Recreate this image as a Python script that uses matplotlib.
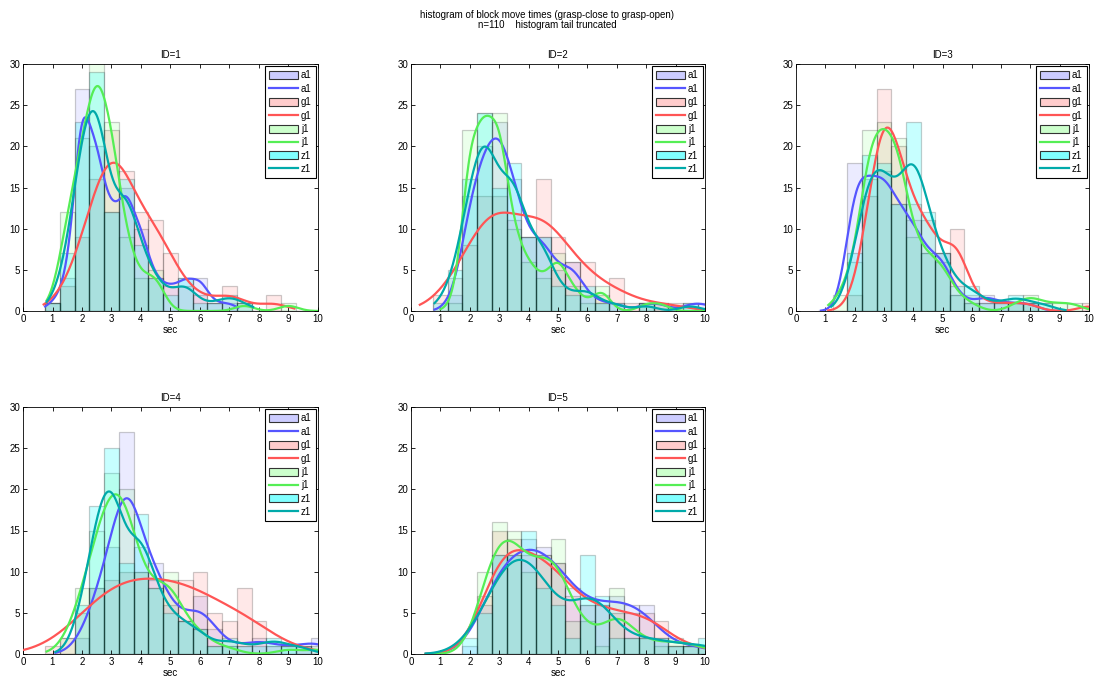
import numpy as np
import matplotlib
matplotlib.use("Agg")
import matplotlib.pyplot as plt
from matplotlib.patches import Patch
from matplotlib.lines import Line2D

plt.rcParams['font.family'] = ['Liberation Sans', 'DejaVu Sans']

# bin centres (width 0.5), tail beyond 10 truncated
centers = [1.0, 1.5, 2.0, 2.5, 3.0, 3.5, 4.0, 4.5, 5.0, 5.5,
           6.0, 6.5, 7.0, 7.5, 8.0, 8.5, 9.0, 9.5, 10.0]
series = ['a1', 'g1', 'j1', 'z1']
panel_titles = ['ID=1', 'ID=2', 'ID=3', 'ID=4', 'ID=5']

# counts, one list per series per panel
id1_a1 = [1, 4, 27, 20, 12, 15, 10, 4, 3, 4, 4, 1, 1, 0, 0, 0, 0, 0, 0]
id1_g1 = [1, 3, 9, 16, 22, 17, 12, 11, 7, 3, 2, 1, 3, 1, 0, 2, 0, 0, 0]
id1_j1 = [1, 12, 21, 31, 23, 9, 4, 5, 0, 0, 0, 0, 0, 1, 0, 0, 1, 0, 0]
id1_z1 = [1, 7, 23, 29, 12, 16, 8, 4, 2, 4, 1, 1, 2, 1, 0, 0, 0, 0, 0]

id2_a1 = [0, 2, 14, 20, 23, 16, 9, 9, 5, 6, 2, 1, 1, 0, 1, 1, 0, 1, 1]
id2_g1 = [2, 4, 8, 14, 14, 11, 9, 16, 9, 6, 6, 2, 4, 1, 1, 1, 1, 0, 0]
id2_j1 = [0, 1, 22, 24, 24, 10, 6, 4, 7, 3, 1, 3, 0, 0, 1, 1, 0, 0, 0]
id2_z1 = [1, 5, 16, 24, 15, 18, 9, 9, 3, 2, 3, 1, 1, 0, 1, 0, 0, 1, 0]

id3_a1 = [0, 0, 18, 16, 17, 13, 11, 7, 7, 2, 1, 2, 1, 1, 1, 0, 0, 0, 0]
id3_g1 = [0, 0, 2, 14, 27, 20, 13, 11, 7, 10, 2, 1, 1, 1, 1, 0, 0, 0, 1]
id3_j1 = [0, 2, 6, 22, 23, 21, 9, 7, 6, 2, 1, 0, 0, 1, 2, 1, 1, 1, 0]
id3_z1 = [0, 0, 7, 19, 18, 13, 23, 12, 7, 3, 3, 1, 1, 2, 1, 1, 0, 0, 0]

id4_a1 = [0, 0, 2, 8, 13, 27, 13, 11, 6, 4, 7, 3, 1, 1, 2, 1, 1, 1, 2]
id4_g1 = [1, 2, 5, 8, 9, 10, 10, 9, 9, 9, 10, 5, 4, 8, 4, 1, 0, 1, 0]
id4_j1 = [0, 2, 8, 15, 22, 20, 10, 8, 10, 4, 3, 1, 1, 0, 0, 0, 1, 0, 1]
id4_z1 = [0, 0, 6, 18, 25, 11, 17, 8, 5, 4, 3, 1, 2, 1, 1, 2, 1, 1, 0]

id5_a1 = [0, 0, 1, 6, 12, 12, 14, 13, 11, 8, 6, 6, 7, 6, 6, 2, 1, 1, 1]
id5_g1 = [0, 0, 0, 7, 15, 14, 12, 12, 11, 7, 6, 6, 5, 5, 5, 4, 1, 1, 1]
id5_j1 = [0, 0, 0, 10, 16, 15, 10, 12, 14, 4, 4, 1, 8, 2, 2, 1, 2, 1, 1]
id5_z1 = [0, 0, 2, 5, 12, 12, 15, 8, 6, 2, 12, 7, 2, 2, 2, 2, 1, 1, 2]

panels = [
    [id1_a1, id1_g1, id1_j1, id1_z1],
    [id2_a1, id2_g1, id2_j1, id2_z1],
    [id3_a1, id3_g1, id3_j1, id3_z1],
    [id4_a1, id4_g1, id4_j1, id4_z1],
    [id5_a1, id5_g1, id5_j1, id5_z1],
]

# kernel widths of the density curves (a1, g1, j1, z1), estimated per panel
kernel_bw = [
    [0.28, 0.50, 0.33, 0.36],
    [0.35, 0.70, 0.30, 0.37],
    [0.35, 0.38, 0.35, 0.40],
    [0.45, 1.00, 0.42, 0.40],
    [0.60, 0.65, 0.50, 0.65],
]

# data range (min, max sec) covered by each density curve
curve_lo = [
    [0.75, 0.70, 0.80, 0.80],
    [0.80, 0.30, 1.00, 0.80],
    [0.85, 1.10, 1.10, 1.20],
    [1.10, 0.00, 0.80, 1.10],
    [0.50, 0.50, 0.50, 0.50],
]
curve_hi = [
    [7.3, 9.2, 10.0, 7.8],
    [10.5, 10.5, 10.5, 10.5],
    [9.0, 10.5, 10.5, 9.2],
    [10.5, 10.5, 10.5, 10.5],
    [10.5, 10.5, 10.5, 10.5],
]

bar_faces = [(0, 0, 1, 0.08), (1, 0, 0, 0.09), (0, 1, 0, 0.08), (0, 1, 1, 0.22)]
bar_edge = (0, 0, 0, 0.2)
legend_fill = ['#ccccff', '#ffcccc', '#ccffcc', '#80ffff']
line_colors = ['#5555ff', '#ff5555', '#55ee55', '#00aaaa']

binw = 0.5


def smooth_curve(counts, bw, lo, hi):
    # kernel density of the binned counts, scaled to histogram counts
    c = np.asarray(counts, dtype=float)
    x = np.asarray(centers)
    grid = np.linspace(lo, hi, 250)
    dens = np.zeros_like(grid)
    for xi, ci in zip(x, c):
        dens += ci * np.exp(-0.5 * ((grid - xi) / bw) ** 2)
    dens /= (bw * np.sqrt(2 * np.pi))
    return grid, dens * binw


fig = plt.figure(figsize=(10.95, 6.77), dpi=100)
W, H = 1095.0, 677.0
boxes = [(23, 64, 318, 311), (411, 64, 705, 311), (796, 64, 1089, 311),
         (23, 407, 318, 654), (411, 407, 705, 654)]

for k, (counts_list, title) in enumerate(zip(panels, panel_titles)):
    l, t, r, b = boxes[k]
    ax = fig.add_axes([l / W, 1 - b / H, (r - l) / W, (b - t) / H])
    for i, counts in enumerate(counts_list):
        ax.bar(centers, counts, width=binw, facecolor=bar_faces[i],
               edgecolor=bar_edge, linewidth=0.9, zorder=1)
    for i, counts in enumerate(counts_list):
        gx, gy = smooth_curve(counts, kernel_bw[k][i], curve_lo[k][i], curve_hi[k][i])
        ax.plot(gx, gy, color=line_colors[i], lw=1.6, zorder=3)
    ax.set_xlim(0, 10)
    ax.set_ylim(0, 30)
    ax.set_xticks(range(0, 11))
    ax.set_yticks(range(0, 31, 5))
    ax.tick_params(direction='in', top=True, right=True, length=3,
                   labelsize=7, pad=2, width=0.6)
    for sp in ax.spines.values():
        sp.set_linewidth(0.6)
    ax.set_title(title, fontsize=7, pad=4)
    ax.set_xlabel('sec', fontsize=7, labelpad=1)

    handles, labels = [], []
    for i, name in enumerate(series):
        handles.append(Patch(facecolor=legend_fill[i], edgecolor='#333333', linewidth=0.8))
        labels.append(name)
        handles.append(Line2D([], [], color=line_colors[i], lw=1.6))
        labels.append(name)
    leg = ax.legend(handles, labels, loc='upper right', fontsize=7,
                    handlelength=3.0, handleheight=0.9, labelspacing=0.35,
                    handletextpad=0.3, borderpad=0.4, borderaxespad=0.25,
                    fancybox=False, framealpha=1, edgecolor='black')
    leg.get_frame().set_linewidth(0.8)

fig.text(0.5, 1 - 15 / H, 'histogram of block move times (grasp-close to grasp-open)',
         ha='center', va='center', fontsize=7)
fig.text(0.5, 1 - 25 / H, 'n=110    histogram tail truncated',
         ha='center', va='center', fontsize=7)

fig.savefig('out.png', dpi=100)
